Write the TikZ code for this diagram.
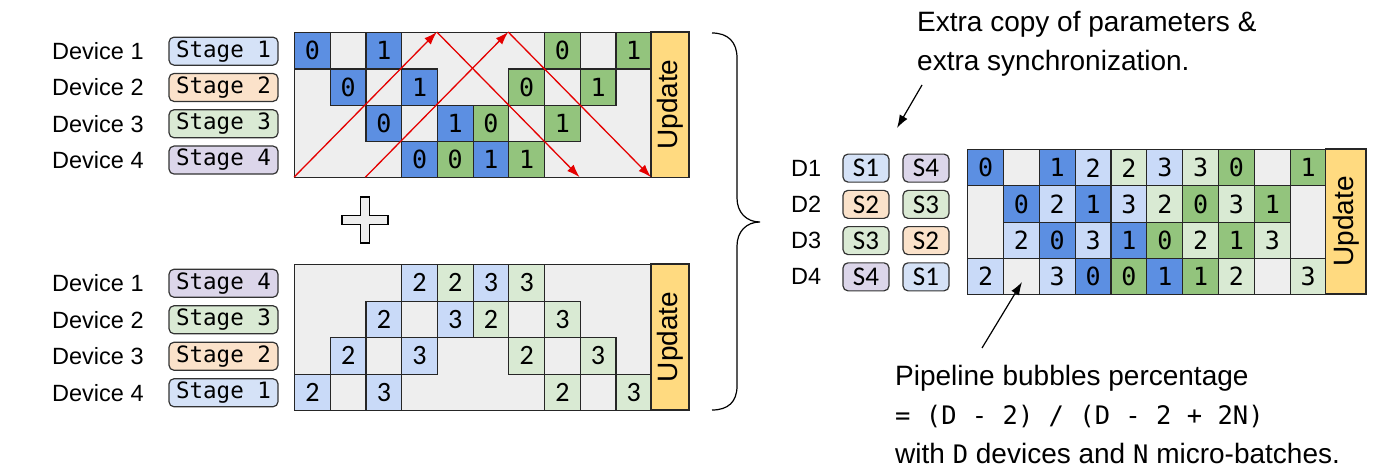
\documentclass[tikz,border=0pt]{standalone}
\usepackage{fontspec}
\setmainfont{Liberation Sans}
\newfontfamily\monof{DejaVu Sans Mono}
\newfontfamily\calf{Carlito}
\usetikzlibrary{arrows.meta}
\definecolor{db}{RGB}{92,143,226}
\definecolor{dg}{RGB}{147,196,125}
\definecolor{lb}{RGB}{201,218,248}
\definecolor{lg}{RGB}{217,234,211}
\definecolor{bg}{RGB}{238,238,238}
\definecolor{upd}{RGB}{255,218,128}
\definecolor{sa}{RGB}{213,226,247}
\definecolor{sb}{RGB}{251,226,202}
\definecolor{sc}{RGB}{218,234,212}
\definecolor{sd}{RGB}{220,214,234}
\newcommand\codetxt[1]{{\monof\fontsize{25.5}{39}\selectfont #1}}
\tikzset{
  cellbox/.style={draw=black!85, line width=1.2pt, minimum width=35.7pt, minimum height=36.3pt,
    inner sep=0pt, anchor=north west, font=\monof\fontsize{25}{25}\selectfont},
  bcell/.style={cellbox, minimum height=36.5pt, font=\calf\fontsize{28}{28}\selectfont},
  rcell/.style={cellbox, minimum width=35.85pt, minimum height=36.25pt},
  gridbg/.style={draw=black!85, line width=1.2pt, fill=bg, inner sep=0pt, anchor=north west},
  updbox/.style={draw=black!85, line width=1.2pt, fill=upd, rotate=90, inner sep=0pt,
    font=\fontsize{28}{28}\selectfont},
  stagebox/.style={draw=black!80, line width=1.2pt, rounded corners=5pt, minimum width=109pt,
    minimum height=28pt, inner sep=0pt, font=\monof\fontsize{22.5}{22.5}\selectfont},
  sbox/.style={stagebox, minimum width=46pt, font=\calf\fontsize{27}{27}\selectfont},
  devlabel/.style={anchor=west, inner sep=0pt, font=\fontsize{23.5}{23.5}\selectfont},
  note/.style={anchor=west, inner sep=0pt, align=left, font=\fontsize{28}{39}\selectfont},
  redarrow/.style={draw=red!90!black, line width=1.3pt, -{Latex[length=13pt,width=9pt]}},
  blackarrow/.style={line width=1.2pt, -{Latex[length=13pt,width=9pt]}}
}
\begin{document}
\begin{tikzpicture}[x=1pt,y=-1pt]
  \useasboundingbox (0,0) rectangle (1400,474);
  % top schedule
  \foreach \i/\f in {1/sa,2/sb,3/sc,4/sd} {
    \node[devlabel] (dt\i) at (52,{14.85+36.3*\i}) {Device \i};
    \node[stagebox, fill=\f] (st\i) at (223.5,{14.85+36.3*\i}) {Stage \i};
  }
  \node[gridbg, minimum width=357pt, minimum height=145.2pt] (gt) at (294,32) {};
  \foreach \c/\r/\f/\t in {0/0/db/0, 2/0/db/1, 7/0/dg/0, 9/0/dg/1, 1/1/db/0, 3/1/db/1, 6/1/dg/0, 8/1/dg/1,
      2/2/db/0, 4/2/db/1, 5/2/dg/0, 7/2/dg/1, 3/3/db/0, 4/3/dg/0, 5/3/db/1, 6/3/dg/1}
    \node[cellbox, fill=\f] (t\c\r) at ({294+35.7*\c},{32+36.3*\r}) {\t};
  \node[updbox, minimum width=145.2pt, minimum height=38pt] (ut) at (670,104.6) {Update};
  \coordinate (p0) at (294,177.2);
  \coordinate (p1) at (365.4,177.2);
  \coordinate (q0) at (436.8,32);
  \coordinate (q1) at (508.2,32);
  \coordinate (p2) at (579.6,177.2);
  \coordinate (p3) at (651,177.2);
  \draw[redarrow] (p0) -- (q0);
  \draw[redarrow] (p1) -- (q1);
  \draw[redarrow] (q0) -- (p2);
  \draw[redarrow] (q1) -- (p3);
  % plus
  \draw[line width=1.2pt, fill=bg] (360.5,197) -- (369.5,197) -- (369.5,215.5) -- (388,215.5) -- (388,224.5)
    -- (369.5,224.5) -- (369.5,243) -- (360.5,243) -- (360.5,224.5) -- (342,224.5) -- (342,215.5)
    -- (360.5,215.5) -- cycle;
  % bottom schedule
  \foreach \i/\s/\f in {1/4/sd,2/3/sc,3/2/sb,4/1/sa} {
    \node[devlabel] (db\i) at (52,{246.75+36.5*\i}) {Device \i};
    \node[stagebox, fill=\f] (sb\i) at (223.5,{246.75+36.5*\i}) {Stage \s};
  }
  \node[gridbg, minimum width=357pt, minimum height=146pt] (gb) at (294,264) {};
  \foreach \c/\r/\f/\t in {3/0/lb/2, 4/0/lg/2, 5/0/lb/3, 6/0/lg/3, 2/1/lb/2, 4/1/lb/3, 5/1/lg/2, 7/1/lg/3,
      1/2/lb/2, 3/2/lb/3, 6/2/lg/2, 8/2/lg/3, 0/3/lb/2, 2/3/lb/3, 7/3/lg/2, 9/3/lg/3}
    \node[bcell, fill=\f] (b\c\r) at ({294+35.7*\c},{264+36.5*\r}) {\t};
  \node[updbox, minimum width=146pt, minimum height=38pt] (ub) at (670,337) {Update};
  % brace
  \draw[line width=1.2pt] (712,33) .. controls (728,33) and (737,42) .. (737,58) -- (737,198)
    .. controls (737,212) and (746,222) .. (760,222) .. controls (746,222) and (737,232) .. (737,246)
    -- (737,386) .. controls (737,402) and (728,410) .. (712,410);
  % merged schedule
  \foreach \i/\a/\fa/\b/\fb in {1/1/sa/4/sd, 2/2/sb/3/sc, 3/3/sc/2/sb, 4/4/sd/1/sa} {
    \node[devlabel] (dr\i) at (791,{131.85+36.25*\i}) {D\i};
    \node[sbox, fill=\fa] (sl\i) at (866,{131.85+36.25*\i}) {S\a};
    \node[sbox, fill=\fb] (sr\i) at (926,{131.85+36.25*\i}) {S\b};
  }
  \node[gridbg, minimum width=358.5pt, minimum height=145pt] (gr) at (967,149) {};
  \foreach \c/\r/\f/\t in {0/0/db/0, 2/0/db/1, 3/0/lb/2, 4/0/lg/2, 5/0/lb/3, 6/0/lg/3, 7/0/dg/0, 9/0/dg/1,
      1/1/db/0, 2/1/lb/2, 3/1/db/1, 4/1/lb/3, 5/1/lg/2, 6/1/dg/0, 7/1/lg/3, 8/1/dg/1,
      1/2/lb/2, 2/2/db/0, 3/2/lb/3, 4/2/db/1, 5/2/dg/0, 6/2/lg/2, 7/2/dg/1, 8/2/lg/3,
      0/3/lb/2, 2/3/lb/3, 3/3/db/0, 4/3/dg/0, 5/3/db/1, 6/3/dg/1, 7/3/lg/2, 9/3/lg/3}
    \node[rcell, fill=\f] (r\c\r) at ({967+35.85*\c},{149+36.25*\r}) {\t};
  \node[updbox, minimum width=145pt, minimum height=40.5pt] (ur) at (1345.75,221.5) {Update};
  % notes
  \node[note] (extra) at (917,44) {Extra copy of parameters \&\\extra synchronization.};
  \coordinate (e1) at (922,85);
  \coordinate (e2) at (897,128);
  \draw[blackarrow] (e1) -- (e2);
  \node[note] (bubble) at (895,414) {Pipeline bubbles percentage\\
    \codetxt{= (D - 2) / (D - 2 + 2N)}\\
    with \codetxt{D} devices and \codetxt{N} micro-batches.};
  \coordinate (f1) at (982,348);
  \coordinate (f2) at (1022,282);
  \draw[blackarrow] (f1) -- (f2);
\end{tikzpicture}
\end{document}
